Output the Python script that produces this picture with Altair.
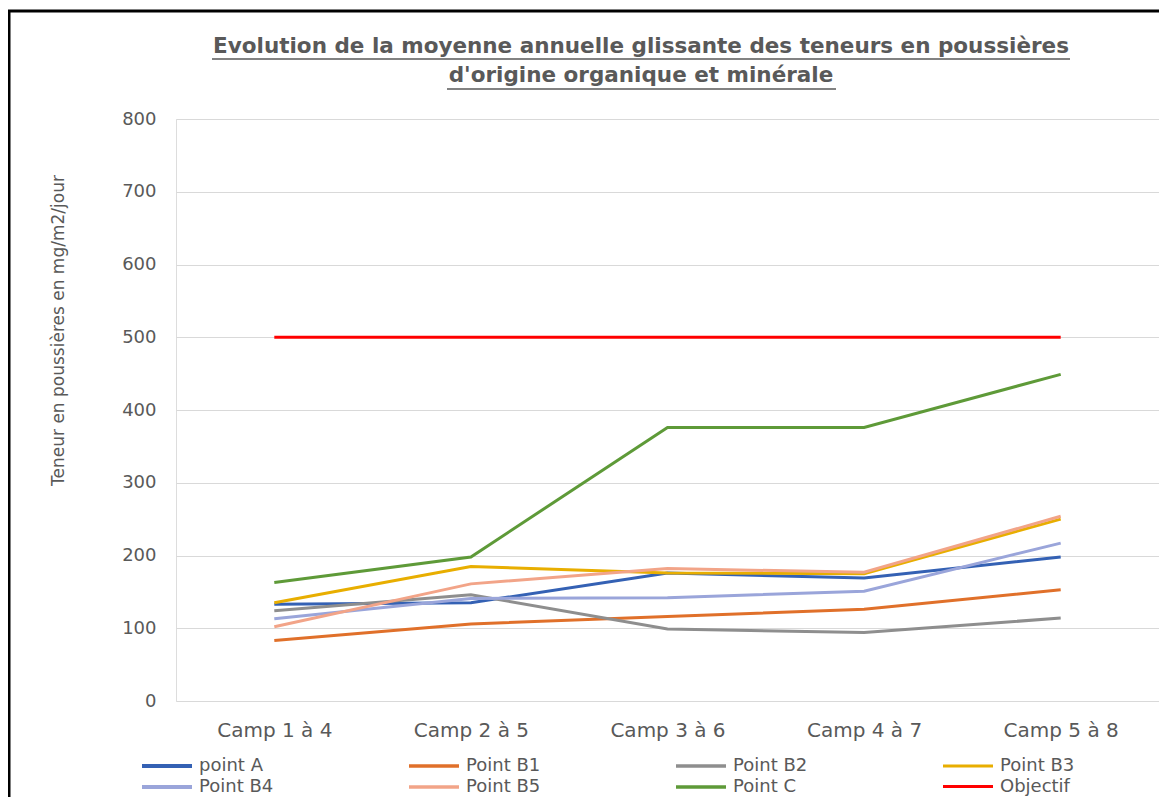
import altair as alt
import pandas as pd

categories = ["Camp 1 à 4", "Camp 2 à 5", "Camp 3 à 6", "Camp 4 à 7", "Camp 5 à 8"]
series_names = ["point A", "Point B1", "Point B2", "Point B3", "Point B4", "Point B5", "Point C", "Objectif"]
point_A = [133, 135, 176, 169, 198]
point_B1 = [83, 106, 116, 126, 153]
point_B2 = [124, 146, 99, 94, 114]
point_B3 = [135, 185, 176, 175, 250]
point_B4 = [113, 141, 142, 151, 217]
point_B5 = [102, 161, 182, 177, 254]
point_C = [163, 198, 376, 376, 449]
objectif = [500, 500, 500, 500, 500]
colors = ["#3461B4", "#E0702A", "#8E8E8E", "#E8AE00", "#9AA5DA", "#F2A488", "#5E9A38", "#FF0000"]
widths = [4, 3, 3, 3, 3, 3, 3, 3]
title_lines = ["Evolution de la moyenne annuelle glissante des teneurs en poussières",
               "d'origine organique et minérale"]

all_series = [point_A, point_B1, point_B2, point_B3, point_B4, point_B5, point_C, objectif]
rows = []
for name, vals in zip(series_names, all_series):
    for c, v in zip(categories, vals):
        rows.append({"camp": c, "serie": name, "valeur": v})
df = pd.DataFrame(rows)

# legend is filled column by column: reorder so it reads row by row (4 per row)
legend_order = [series_names[i] for i in (0, 4, 1, 5, 2, 6, 3, 7)]
legend_colors = [colors[i] for i in (0, 4, 1, 5, 2, 6, 3, 7)]
legend_widths = [widths[i] for i in (0, 4, 1, 5, 2, 6, 3, 7)]

TXT = "#595959"
FONT = "DejaVu Sans"

lines = alt.Chart(df).mark_line(strokeWidth=3).encode(
    x=alt.X("camp:N", sort=categories, scale=alt.Scale(type="point", padding=0.5),
            axis=alt.Axis(title=None, labelAngle=0, ticks=False, domain=False, grid=False,
                          labelFontSize=20, labelColor=TXT, labelPadding=19, labelFont=FONT)),
    y=alt.Y("valeur:Q", scale=alt.Scale(domain=[0, 800]),
            axis=alt.Axis(title="Teneur en poussières en mg/m2/jour", values=[0, 100, 200, 300, 400, 500, 600, 700, 800],
                          ticks=False, domain=False, gridColor="#D9D9D9", gridWidth=1,
                          labelFontSize=18, labelColor=TXT, labelPadding=20, labelFont=FONT,
                          titleFontSize=17, titleColor=TXT, titleFontWeight="normal", titleFont=FONT,
                          titleX=-118, titleY=211, titleAngle=-90, titleAlign="center", titleBaseline="middle")),
    color=alt.Color("serie:N", sort=legend_order,
                    scale=alt.Scale(domain=legend_order, range=legend_colors),
                    legend=alt.Legend(title=None, orient="none", legendX=-36, legendY=635, columns=4,
                                      gridAlign="all", columnPadding=127, rowPadding=0,
                                      symbolType="M-1,0H4", symbolSize=400, symbolStrokeWidth=4,
                                      labelFontSize=18, labelColor=TXT, labelFont=FONT, labelOffset=35,
                                      padding=0)),
    strokeWidth=alt.StrokeWidth("serie:N", sort=legend_order,
                                scale=alt.Scale(domain=legend_order, range=legend_widths), legend=None),
)

one = pd.DataFrame({"k": [0]})
frame = alt.Chart(one).mark_rect(fill=None, stroke="black", strokeWidth=3).encode(
    x=alt.value(-167), x2=alt.value(1100), y=alt.value(-108), y2=alt.value(800)
)

title1 = alt.Chart(pd.DataFrame({"t": [title_lines[0]]})).mark_text(
    fontSize=21.5, fontWeight="bold", color=TXT, font=FONT, align="center", baseline="middle"
).encode(text="t:N", x=alt.value(465), y=alt.value(-72))
title2 = alt.Chart(pd.DataFrame({"t": [title_lines[1]]})).mark_text(
    fontSize=21.5, fontWeight="bold", color=TXT, font=FONT, align="center", baseline="middle"
).encode(text="t:N", x=alt.value(465), y=alt.value(-43))

underline1 = alt.Chart(one).mark_rule(color=TXT, strokeWidth=1.5).encode(
    x=alt.value(36), x2=alt.value(894), y=alt.value(-60)
)
underline2 = alt.Chart(one).mark_rule(color=TXT, strokeWidth=1.5).encode(
    x=alt.value(271), x2=alt.value(660), y=alt.value(-30)
)

chart = alt.layer(frame, lines, title1, title2, underline1, underline2).properties(
    width=983, height=582,
    autosize=alt.AutoSizeParams(type="none"),
    padding={"left": 168, "top": 111, "right": 0, "bottom": 96},
).configure_view(stroke=None).configure(background="white")

chart.save("out.html", embed_options={"renderer": "svg", "actions": False})
